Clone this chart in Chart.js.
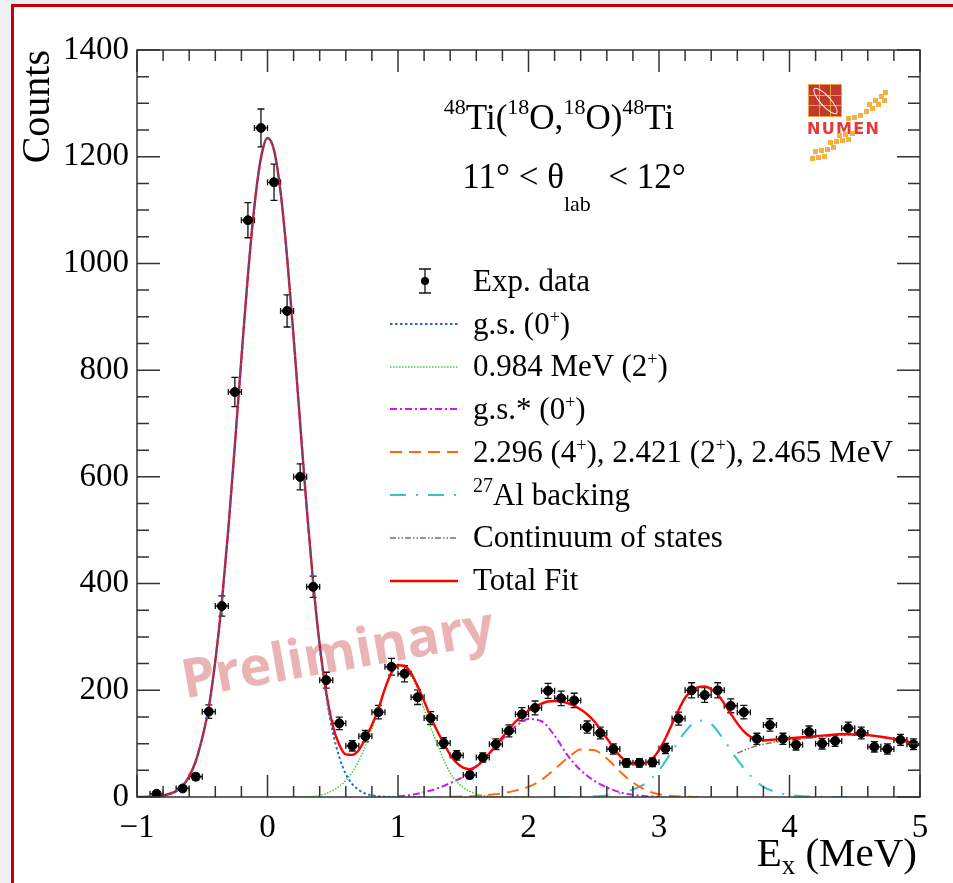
<!DOCTYPE html>
<html>
<head>
<meta charset="utf-8">
<script src="https://cdn.jsdelivr.net/npm/chart.js@4.4.1/dist/chart.umd.min.js"></script>
<style>
  html, body { margin: 0; padding: 0; width: 953px; height: 883px; overflow: hidden; background: #f0f0f0; }
  #page { position: absolute; left: 11px; top: 4px; width: 1000px; height: 1000px; background: #fff;
          border-left: 3px solid #c8000a; border-top: 3px solid #c8000a; }
  #chart { position: absolute; left: 0; top: 0; z-index: 2; }
  .txt { position: absolute; z-index: 3; font-family: "Liberation Serif", "Times New Roman", serif;
         color: #000; line-height: 1; white-space: nowrap; }
  .sup { font-size: 22px; vertical-align: 15px; line-height: 0; }
  .lsup { font-size: 18px; vertical-align: 11px; line-height: 0; }
  .lsup2 { font-size: 20px; vertical-align: 13px; line-height: 0; }
  .leg { left: 473px; font-size: 31px; }
  #prelim { position: absolute; z-index: 1; left: 179px; top: 623px; font-family: "Open Sans", sans-serif;
            font-weight: 700; font-size: 54px; color: rgba(214, 105, 105, 0.5); transform: rotate(-10deg);
            transform-origin: center; white-space: nowrap; line-height: 1; }
  #logo { position: absolute; left: 806px; top: 82px; width: 90px; height: 80px; z-index: 3; }
  #logo .grid { position: absolute; left: 2px; top: 2px; width: 34px; height: 33px; background: #f0a040;
                display: grid; grid-template-columns: repeat(3, 1fr); gap: 1px; padding: 1px; box-sizing: border-box; }
  #logo .grid div { background: #c0392b; }
  #logo .ring { position: absolute; left: 14px; top: 2px; width: 9px; height: 32px; border: 1.5px solid #fff;
                border-radius: 50%; transform: rotate(-42deg); }
  #logo .name { position: absolute; left: 1px; top: 39px; font-family: "DejaVu Sans", sans-serif; font-weight: 700;
                font-size: 16px; letter-spacing: 1.3px; color: #e53935; line-height: 1; }
  #logo .sq { position: absolute; width: 5px; height: 5px; background: #f4b045; }
</style>
</head>
<body>
<div id="page"></div>
<div id="prelim">Preliminary</div>
<canvas id="chart" width="953" height="883"></canvas>

<div class="txt" style="left:359px; width:400px; text-align:center; top:100px; font-size:35px;"><span class="sup">48</span>Ti(<span class="sup">18</span>O,<span class="sup">18</span>O)<span class="sup">48</span>Ti</div>
<div class="txt" style="left:374px; width:400px; text-align:center; top:159px; font-size:35px;">11° &lt; θ<span style="font-size:22px; vertical-align:-23px; line-height:0;">lab</span>&nbsp; &lt; 12°</div>

<div class="txt leg" style="top:265px;">Exp. data</div>
<div class="txt leg" style="top:308px;">g.s. (0<span class="lsup">+</span>)</div>
<div class="txt leg" style="top:350px;">0.984 MeV (2<span class="lsup">+</span>)</div>
<div class="txt leg" style="top:393px;">g.s.* (0<span class="lsup">+</span>)</div>
<div class="txt leg" style="top:436px;">2.296 (4<span class="lsup">+</span>), 2.421 (2<span class="lsup">+</span>), 2.465 MeV</div>
<div class="txt leg" style="top:479px;"><span class="lsup2">27</span>Al backing</div>
<div class="txt leg" style="top:521px;">Continuum of states</div>
<div class="txt leg" style="top:564px;">Total Fit</div>

<div class="txt" style="left:16px; top:250px; width:200px; text-align:right; font-size:40px; transform-origin:left top; transform:rotate(-90deg);">Counts</div>
<div class="txt" style="right:36px; top:832px; font-size:41px;">E<span style="font-size:27px; vertical-align:-8px; line-height:0;">x</span> (MeV)</div>

<div id="logo">
  <div class="grid"><div></div><div></div><div></div><div></div><div></div><div></div><div></div><div></div><div></div></div>
  <div class="ring"></div>
  <div class="name">NUMEN</div>
  <div class="sq" style="left:40px; top:34px"></div><div class="sq" style="left:46px; top:33px"></div>
  <div class="sq" style="left:52px; top:31px"></div><div class="sq" style="left:58px; top:27px"></div>
  <div class="sq" style="left:64px; top:24px"></div><div class="sq" style="left:70px; top:20px"></div>
  <div class="sq" style="left:76px; top:16px"></div><div class="sq" style="left:61px; top:20px"></div>
  <div class="sq" style="left:67px; top:16px"></div><div class="sq" style="left:73px; top:12px"></div>
  <div class="sq" style="left:77px; top:8px"></div>
  <div class="sq" style="left:4px; top:74px"></div><div class="sq" style="left:10px; top:73px"></div>
  <div class="sq" style="left:16px; top:72px"></div><div class="sq" style="left:7px; top:67px"></div>
  <div class="sq" style="left:13px; top:66px"></div><div class="sq" style="left:19px; top:65px"></div>
  <div class="sq" style="left:25px; top:63px"></div><div class="sq" style="left:22px; top:58px"></div>
  <div class="sq" style="left:28px; top:57px"></div><div class="sq" style="left:34px; top:56px"></div>
  <div class="sq" style="left:40px; top:55px"></div><div class="sq" style="left:31px; top:51px"></div>
  <div class="sq" style="left:37px; top:50px"></div><div class="sq" style="left:44px; top:49px"></div>
</div>

<script>
// experimental spectrum (bin centres in MeV, counts per bin)
const expE = [-0.85, -0.65, -0.55, -0.45, -0.35, -0.25, -0.15, -0.05, 0.05, 0.15,
  0.25, 0.35, 0.45, 0.55, 0.65, 0.75, 0.85, 0.95, 1.05, 1.15,
  1.25, 1.35, 1.45, 1.55, 1.65, 1.75, 1.85, 1.95, 2.05, 2.15,
  2.25, 2.35, 2.45, 2.55, 2.65, 2.75, 2.85, 2.95, 3.05, 3.15,
  3.25, 3.35, 3.45, 3.55, 3.65, 3.75, 3.85, 3.95, 4.05, 4.15,
  4.25, 4.35, 4.45, 4.55, 4.65, 4.75, 4.85, 4.95];
const expCounts = [6, 16, 38, 160, 358, 759, 1081, 1254, 1152, 911,
  600, 394, 219, 138, 96, 114, 159, 244, 231, 187,
  148, 101, 78, 41, 74, 99, 124, 155, 167, 199,
  185, 181, 131, 120, 90, 64, 64, 65, 91, 147,
  200, 191, 200, 171, 159, 109, 135, 109, 98, 122,
  100, 105, 129, 120, 94, 90, 107, 99];
const binHalfWidth = 0.05;

// fit components
const gsE = [-1.0, -0.9, -0.8, -0.7, -0.65, -0.6, -0.55, -0.5, -0.45, -0.4, -0.35, -0.3, -0.25, -0.2, -0.15,
  -0.1, -0.05, 0, 0.05, 0.1, 0.15, 0.2, 0.25, 0.3, 0.35, 0.4, 0.45, 0.5, 0.55, 0.6, 0.65, 0.7, 0.75, 0.8,
  0.9, 1.0, 1.1, 1.2];
const gsCounts = [0.1, 0.5, 2.7, 11, 21, 39, 67, 111, 168, 255, 365, 503, 660, 822, 978,
  1108, 1198, 1235, 1212, 1134, 1012, 862, 701, 543, 401, 282, 190, 122, 75, 43, 24, 13, 6.5, 3.1,
  0.6, 0.1, 0, 0];

const e2E = [0.0, 0.1, 0.2, 0.3, 0.4, 0.5, 0.6, 0.7, 0.8, 0.85, 0.9, 0.95, 1.0, 1.05, 1.1, 1.15, 1.2,
  1.3, 1.4, 1.5, 1.6, 1.7, 1.8, 1.9, 2.0];
const e2Counts = [0, 0, 0.1, 0.5, 3, 12, 31, 68, 128, 168, 205, 234, 246, 244, 228, 202, 165,
  100, 45, 18, 6, 1.5, 0.3, 0, 0];

const gsStarE = [1.0, 1.1, 1.2, 1.3, 1.4, 1.5, 1.6, 1.7, 1.8, 1.9, 2.0, 2.1, 2.2, 2.3, 2.4, 2.5, 2.6,
  2.7, 2.8, 2.9, 3.0];
const gsStarCounts = [1, 4, 9, 16, 26, 38, 58, 82, 108, 132, 146, 142, 115, 78, 50, 31, 18,
  9, 4, 1.5, 0.5];

const tripletE = [1.4, 1.5, 1.6, 1.7, 1.8, 1.9, 2.0, 2.1, 2.2, 2.3, 2.4, 2.5, 2.6, 2.7, 2.8, 2.9, 3.0,
  3.1, 3.2, 3.3];
const tripletCounts = [0.5, 1, 2, 4, 7, 12, 19, 32, 52, 73, 89, 88, 72, 48, 27, 13, 5,
  2, 0.5, 0.1];

const alE = [2.2, 2.3, 2.4, 2.5, 2.6, 2.7, 2.8, 2.9, 3.0, 3.1, 3.2, 3.3, 3.4, 3.5, 3.6, 3.7, 3.8,
  3.9, 4.0, 4.1, 4.2, 4.3, 4.4, 4.5];
const alCounts = [0, 0.1, 0.3, 1, 3, 7, 14, 26, 50, 86, 122, 143, 137, 106, 70, 40, 19,
  9, 4, 1.5, 0.5, 0.2, 0.1, 0];

const contE = [3.6, 3.7, 3.8, 3.9, 4.0, 4.1, 4.2, 4.3, 4.4, 4.5, 4.6, 4.7, 4.8, 4.9, 5.0];
const contCounts = [82, 92, 99, 103, 106, 109, 112, 114, 116, 116, 115, 112, 108, 103, 97];

const totalE = [-1.0, -0.9, -0.8, -0.7, -0.65, -0.6, -0.55, -0.5, -0.45, -0.4, -0.35, -0.3, -0.25, -0.2,
  -0.15, -0.1, -0.05, 0, 0.05, 0.1, 0.15, 0.2, 0.25, 0.3, 0.35, 0.4, 0.45, 0.5, 0.55, 0.6, 0.65, 0.7,
  0.75, 0.8, 0.85, 0.9, 0.95, 1.0, 1.05, 1.1, 1.15, 1.2, 1.25, 1.3, 1.35, 1.4, 1.45, 1.5, 1.55, 1.6,
  1.65, 1.7, 1.75, 1.8, 1.85, 1.9, 1.95, 2.0, 2.05, 2.1, 2.15, 2.2, 2.25, 2.3, 2.35, 2.4, 2.45, 2.5,
  2.55, 2.6, 2.65, 2.7, 2.75, 2.8, 2.85, 2.9, 2.95, 3.0, 3.05, 3.1, 3.15, 3.2, 3.25, 3.3, 3.35, 3.4,
  3.45, 3.5, 3.55, 3.6, 3.65, 3.7, 3.75, 3.8, 3.9, 4.0, 4.1, 4.2, 4.3, 4.4, 4.5, 4.6, 4.7, 4.8, 4.9, 5.0];
const totalCounts = [0.1, 0.5, 2.7, 11, 21, 39, 67, 111, 168, 255, 365, 503, 660, 822,
  978, 1108, 1198, 1235, 1212, 1134, 1012, 862, 701, 543, 402, 285, 196, 134, 98, 80, 79, 88,
  110, 135, 165, 203, 233, 247, 246, 232, 208, 180, 150, 124, 101, 79, 64, 55, 52, 57,
  68, 82, 96, 112, 127, 141, 152, 162, 169, 175, 179, 180, 179, 176, 171, 164, 155, 143,
  127, 110, 93, 77, 67, 62, 62, 64, 72, 88, 110, 137, 163, 186, 199, 206, 207, 202,
  192, 175, 156, 138, 123, 113, 108, 106, 108, 110, 112, 114, 116, 118, 117, 116, 113, 109, 104, 97];

const xTicks = [-1, 0, 1, 2, 3, 4, 5];
const yTicks = [0, 200, 400, 600, 800, 1000, 1200, 1400];

const zip = (xs, ys) => xs.map((v, i) => ({ x: v, y: ys[i] }));
const serif = "'Liberation Serif', 'Times New Roman', serif";

function curve(label, xs, ys, color, width, dash, order) {
  return {
    label, data: zip(xs, ys), showLine: true, pointRadius: 0, borderColor: color,
    borderWidth: width, borderDash: dash, cubicInterpolationMode: "monotone", order
  };
}

const components = [
  curve("g.s. (0+)", gsE, gsCounts, "#1b6bd8", 2, [2.5, 2.5], 1),
  curve("0.984 MeV (2+)", e2E, e2Counts, "#3fce3f", 1.5, [1.5, 1.5], 4),
  curve("g.s.* (0+)", gsStarE, gsStarCounts, "#c61cf2", 2, [7, 3, 2, 3], 4),
  curve("2.296, 2.421, 2.465 MeV", tripletE, tripletCounts, "#ff6a0a", 2, [12, 7], 4),
  curve("27Al backing", alE, alCounts, "#33c4c8", 2, [16, 10, 2, 10], 4),
  curve("Continuum of states", contE, contCounts, "#8c6b5f", 1.5, [6, 2, 1.5, 2, 1.5, 2], 4),
  curve("Total Fit", totalE, totalCounts, "#ff0000", 2.4, [], 2)
];

// legend samples, one per row, drawn next to the html labels
const legendRows = { x0: 390, x1: 458, y0: 281, step: 42.8 };

const errorBars = {
  id: "errorBars",
  beforeDatasetsDraw(chart) {
    const { ctx, chartArea: a, scales: { x, y } } = chart;
    ctx.save();
    ctx.beginPath();
    ctx.rect(a.left, a.top, a.right - a.left, a.bottom - a.top);
    ctx.clip();
    ctx.strokeStyle = "#111";
    ctx.lineWidth = 1.3;
    ctx.beginPath();
    expE.forEach((e, i) => {
      const c = expCounts[i], err = Math.sqrt(c);
      const px = x.getPixelForValue(e), py = y.getPixelForValue(c);
      const t = y.getPixelForValue(c + err), b = y.getPixelForValue(Math.max(c - err, 0));
      const l = x.getPixelForValue(e - binHalfWidth), r = x.getPixelForValue(e + binHalfWidth);
      ctx.moveTo(px, t); ctx.lineTo(px, b);
      ctx.moveTo(px - 3.5, t); ctx.lineTo(px + 3.5, t);
      ctx.moveTo(px - 3.5, b); ctx.lineTo(px + 3.5, b);
      ctx.moveTo(l, py); ctx.lineTo(r, py);
      ctx.moveTo(l, py - 3); ctx.lineTo(l, py + 3);
      ctx.moveTo(r, py - 3); ctx.lineTo(r, py + 3);
    });
    ctx.stroke();
    ctx.restore();
  }
};

const frameAndLegend = {
  id: "frameAndLegend",
  afterDraw(chart) {
    const { ctx, chartArea: a, scales: { x, y } } = chart;
    ctx.save();
    // ROOT style frame with ticks on all four sides
    ctx.strokeStyle = "#333";
    ctx.lineWidth = 1.5;
    ctx.strokeRect(a.left, a.top, a.right - a.left, a.bottom - a.top);
    ctx.beginPath();
    for (let i = 0; i <= 30; i++) {
      const px = x.getPixelForValue(-1 + i * 0.2), len = i % 5 === 0 ? 22 : 11;
      ctx.moveTo(px, a.bottom); ctx.lineTo(px, a.bottom - len);
      ctx.moveTo(px, a.top); ctx.lineTo(px, a.top + len);
    }
    for (let i = 0; i <= 28; i++) {
      const py = y.getPixelForValue(i * 50), len = i % 4 === 0 ? 23 : 12;
      ctx.moveTo(a.left, py); ctx.lineTo(a.left + len, py);
      ctx.moveTo(a.right, py); ctx.lineTo(a.right - len, py);
    }
    ctx.stroke();

    // legend: data symbol then the line samples
    const { x0, x1, y0, step } = legendRows;
    const xm = (x0 + x1) / 2 + 1;
    ctx.strokeStyle = "#111";
    ctx.lineWidth = 1.3;
    ctx.beginPath();
    ctx.moveTo(xm, y0 - 12); ctx.lineTo(xm, y0 + 12);
    ctx.moveTo(xm - 6, y0 - 12); ctx.lineTo(xm + 6, y0 - 12);
    ctx.moveTo(xm - 6, y0 + 12); ctx.lineTo(xm + 6, y0 + 12);
    ctx.stroke();
    ctx.fillStyle = "#000";
    ctx.beginPath();
    ctx.arc(xm, y0, 4, 0, Math.PI * 2);
    ctx.fill();
    components.forEach((ds, i) => {
      const yy = Math.round(y0 + step * (i + 1));
      ctx.strokeStyle = ds.borderColor;
      ctx.lineWidth = ds.borderWidth;
      ctx.setLineDash(ds.borderDash);
      ctx.beginPath();
      ctx.moveTo(x0, yy); ctx.lineTo(x1, yy);
      ctx.stroke();
    });
    ctx.restore();
  }
};

new Chart(document.getElementById("chart"), {
  type: "scatter",
  data: {
    datasets: [
      {
        label: "Exp. data", data: zip(expE, expCounts), pointRadius: 4.5,
        backgroundColor: "#000", borderColor: "#000", order: 0
      },
      ...components
    ]
  },
  options: {
    responsive: false,
    animation: false,
    events: [],
    layout: { padding: { left: 0, top: 50, right: 33, bottom: 0 } },
    plugins: { legend: { display: false }, tooltip: { enabled: false } },
    scales: {
      x: {
        type: "linear", min: -1, max: 5,
        afterFit: s => { s.height = 86; },
        afterBuildTicks: s => { s.ticks = xTicks.map(v => ({ value: v })); },
        grid: { display: false }, border: { display: false },
        ticks: {
          autoSkip: false, maxRotation: 0, padding: 4, color: "#000",
          font: { family: serif, size: 33 },
          callback: v => String(v).replace("-", "\u2212")
        }
      },
      y: {
        min: 0, max: 1400,
        afterFit: s => { s.width = 137; },
        afterBuildTicks: s => { s.ticks = yTicks.map(v => ({ value: v })); },
        grid: { display: false }, border: { display: false },
        ticks: { padding: 0, color: "#000", font: { family: serif, size: 33 }, callback: v => String(v) }
      }
    }
  },
  plugins: [errorBars, frameAndLegend]
});
</script>
</body>
</html>
